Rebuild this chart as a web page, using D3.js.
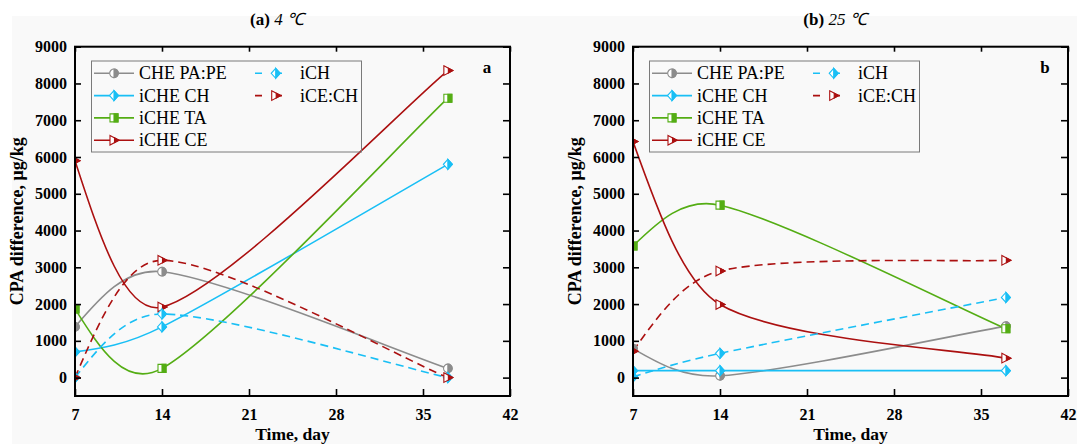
<!DOCTYPE html>
<html><head><meta charset="utf-8">
<script src="https://cdn.jsdelivr.net/npm/d3@7"></script>
<style>
html,body{margin:0;padding:0;background:#fff;}
svg{display:block;}
text{font-family:"Liberation Serif","Times New Roman",serif;fill:#000;}
</style></head>
<body>
<svg id="chart" width="1077" height="444"></svg>
<script>
// ---------- DATA ----------
const days = [7, 14, 37];
const xTicks = [7, 14, 21, 28, 35, 42];
const yTicks = [0, 1000, 2000, 3000, 4000, 5000, 6000, 7000, 8000, 9000];
const seriesNames = ["CHE PA:PE", "iCHE CH", "iCHE TA", "iCHE CE", "iCH", "iCE:CH"];
const seriesColors = ["#8c8c8c", "#19bff5", "#54ad14", "#ab1010", "#19bff5", "#ab1010"];
const seriesDashed = [false, false, false, false, true, true];
const seriesMarkers = ["circle", "diamond", "square", "triangle", "diamond", "triangle"];

// panel (a) 4 °C
const a_chePaPe = [1380, 2880, 250];
const a_icheCh  = [700, 1380, 5800];
const a_icheTa  = [1870, 250, 7600];
const a_icheCe  = [5900, 1920, 8350];
const a_iCh     = [0, 1730, 0];
const a_iCeCh   = [0, 3190, 0];
// panel (b) 25 °C
const b_chePaPe = [790, 50, 1400];
const b_icheCh  = [190, 190, 190];
const b_icheTa  = [3580, 4690, 1330];
const b_icheCe  = [6420, 1990, 530];
const b_iCh     = [20, 660, 2180];
const b_iCeCh   = [720, 2900, 3190];

const panels = [
  {id:"a", titleBold:"(a)", titleItalic:" 4 ℃", label:"a", left:75, values:[a_chePaPe,a_icheCh,a_icheTa,a_icheCe,a_iCh,a_iCeCh]},
  {id:"b", titleBold:"(b)", titleItalic:" 25 ℃", label:"b", left:633, values:[b_chePaPe,b_icheCh,b_icheTa,b_icheCe,b_iCh,b_iCeCh]}
];

// ---------- DRAW ----------
const svg = d3.select("#chart");
svg.append("rect").attr("x",12).attr("y",16).attr("width",1065).attr("height",428).attr("fill","#f9f9f9");

const plotW = 435, plotTop = 46.7, plotBottom = 396;

// smooth spline through points (Hermite-style, natural start)
function smoothPath(pts){
  const p = d3.path(), n = pts.length;
  p.moveTo(pts[0][0], pts[0][1]);
  if(n < 3){ pts.slice(1).forEach(q=>p.lineTo(q[0],q[1])); return p.toString(); }
  const slope = i => (pts[i+1][1]-pts[i-1][1])/(pts[i+1][0]-pts[i-1][0]);
  for(let i=0;i<n-1;i++){
    const a = pts[i], b = pts[i+1], h = b[0]-a[0];
    let c1, c2;
    if(i===0){
      const s = slope(1);
      c2 = [b[0]-0.42*h, b[1]-0.42*h*s];
      c1 = [(a[0]+c2[0])/2, (a[1]+c2[1])/2];
    } else if(i===n-2){
      const pr = pts[i-1];
      c1 = [a[0]+(b[0]-pr[0])/6, a[1]+(b[1]-pr[1])/6];
      c2 = [b[0]-(b[0]-a[0])/6, b[1]-(b[1]-a[1])/6];
    } else {
      const s0 = slope(i), s1 = slope(i+1);
      c1 = [a[0]+h/3, a[1]+s0*h/3];
      c2 = [b[0]-h/3, b[1]-s1*h/3];
    }
    p.bezierCurveTo(c1[0],c1[1],c2[0],c2[1],b[0],b[1]);
  }
  return p.toString();
}

function markerPaths(type){
  if(type==="circle") return {full:"M0,-4.3A4.3,4.3 0 1 1 0,4.3A4.3,4.3 0 1 1 0,-4.3Z", half:"M0,-4.3A4.3,4.3 0 0 1 0,4.3Z"};
  if(type==="square") return {full:"M-4,-4H4V4H-4Z", half:"M0,-4H4V4H0Z"};
  if(type==="diamond") return {full:"M0,-5L4.5,0L0,5L-4.5,0Z", half:"M0,-5L4.5,0L0,5Z"};
  return {full:"M-4,-4.8L5,0L-4,4.8Z", half:"M0.5,-2.4L5,0L0.5,2.4Z"};
}
function drawMarker(g, type, color, x, y){
  const p = markerPaths(type);
  const m = g.append("g").attr("transform",`translate(${x},${y})`);
  m.append("path").attr("d",p.full).attr("fill","#fff").attr("stroke",color).attr("stroke-width",1.1);
  m.append("path").attr("d",p.half).attr("fill",color).attr("stroke",color).attr("stroke-width",1.1);
}

panels.forEach(P => {
  const L = P.left, R = L + plotW;
  const x = d3.scaleLinear().domain([7,42]).range([L,R]);
  const y = d3.scaleLinear().domain([-500,9000]).range([plotBottom,plotTop]);
  const g = svg.append("g");

  const clipId = "clip-"+P.id;
  svg.append("defs").append("clipPath").attr("id",clipId)
    .append("rect").attr("x",L).attr("y",plotTop).attr("width",plotW).attr("height",plotBottom-plotTop);

  // series
  const sg = g.append("g").attr("clip-path",`url(#${clipId})`);
  P.values.forEach((vals,si)=>{
    const pts = vals.map((v,i)=>[x(days[i]), y(v)]);
    sg.append("path").attr("d",smoothPath(pts)).attr("fill","none")
      .attr("stroke",seriesColors[si]).attr("stroke-width",1.6)
      .attr("stroke-dasharray",seriesDashed[si]?"8,5":null);
  });
  P.values.forEach((vals,si)=>{
    vals.forEach((v,i)=>drawMarker(sg, seriesMarkers[si], seriesColors[si], x(days[i]), y(v)));
  });

  // axes
  const axB = g.append("g").attr("transform",`translate(0,${plotBottom})`)
    .call(d3.axisBottom(x).tickValues(xTicks).tickSize(-7).tickPadding(13).tickFormat(d3.format("d")));
  const axT = g.append("g").attr("transform",`translate(0,${plotTop})`)
    .call(d3.axisTop(x).tickValues(xTicks).tickSize(-5).tickFormat(""));
  const axL = g.append("g").attr("transform",`translate(${L},0)`)
    .call(d3.axisLeft(y).tickValues(yTicks).tickSize(-6).tickPadding(8).tickFormat(d3.format("d")));
  const axR = g.append("g").attr("transform",`translate(${R},0)`)
    .call(d3.axisRight(y).tickValues(yTicks).tickSize(-7).tickFormat(""));
  [axB,axT,axL,axR].forEach(a=>{
    a.select(".domain").remove();
    a.selectAll(".tick line").attr("stroke","#000").attr("stroke-width",1.6);
    a.selectAll(".tick text").attr("font-family","'Liberation Serif','Times New Roman',serif")
      .attr("font-size",16).attr("font-weight","bold").attr("fill","#000");
  });
  g.append("rect").attr("x",L).attr("y",plotTop).attr("width",plotW).attr("height",plotBottom-plotTop)
    .attr("fill","none").attr("stroke","#000").attr("stroke-width",2);

  // titles / labels
  const t = g.append("text").attr("x",L+202).attr("y",25).attr("text-anchor","middle").attr("font-size",17);
  t.append("tspan").attr("font-weight","bold").text(P.titleBold);
  t.append("tspan").attr("font-style","italic").text(P.titleItalic);
  g.append("text").attr("x",(L+R)/2).attr("y",440).attr("text-anchor","middle")
    .attr("font-size",17.5).attr("font-weight","bold").text("Time, day");
  g.append("text").attr("transform",`translate(${L-52},${(plotTop+plotBottom)/2}) rotate(-90)`)
    .attr("text-anchor","middle").attr("font-size",18).attr("font-weight","bold").text("CPA difference, μg/kg");
  g.append("text").attr("x",R-23).attr("y",73).attr("text-anchor","middle")
    .attr("font-size",17).attr("font-weight","bold").text(P.label);

  // legend
  const lg = g.append("g");
  lg.append("rect").attr("x",L+16.5).attr("y",61).attr("width",270).attr("height",91)
    .attr("fill","none").attr("stroke","#7a7a7a").attr("stroke-width",1);
  const rowY = [73.3, 95.6, 117.9, 140.2];
  seriesNames.forEach((name,si)=>{
    const col = si<4?0:1, row = si<4?si:si-4;
    const x0 = col===0?L+19:L+180, x1 = col===0?L+59:L+212.5, mx = col===0?L+39:L+200.7, tx = col===0?L+64:L+225;
    const yy = rowY[row];
    lg.append("line").attr("x1",x0).attr("x2",x1).attr("y1",yy).attr("y2",yy)
      .attr("stroke",seriesColors[si]).attr("stroke-width",1.6)
      .attr("stroke-dasharray",seriesDashed[si]?"7,13":null);
    drawMarker(lg, seriesMarkers[si], seriesColors[si], mx, yy);
    lg.append("text").attr("x",tx).attr("y",yy+6).attr("font-size",18).text(name);
  });
});
</script>
</body></html>
